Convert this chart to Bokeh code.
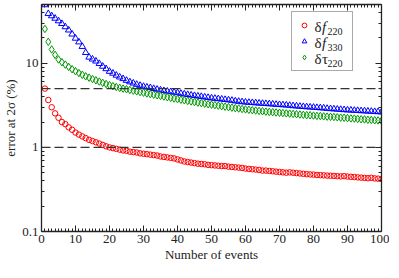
from bokeh.plotting import figure
from bokeh.models import (Span, Label, Legend, LegendItem, LinearAxis, LogAxis,
                          FixedTicker, BasicTickFormatter)
from bokeh.embed import file_html
from bokeh.resources import INLINE

events = list(range(1, 101))

df220 = [5.0, 3.66, 3.0, 2.54, 2.25, 2.0, 1.89, 1.73, 1.62, 1.5,
         1.42, 1.35, 1.29, 1.23, 1.19, 1.15, 1.11, 1.07, 1.03, 1.0,
         0.98, 0.96, 0.94, 0.92, 0.91, 0.89, 0.88, 0.87, 0.85, 0.84,
         0.83, 0.82, 0.81, 0.8, 0.78, 0.77, 0.76, 0.75, 0.74, 0.72,
         0.7, 0.68, 0.67, 0.66, 0.65, 0.64, 0.635, 0.63, 0.62, 0.615,
         0.61, 0.605, 0.6, 0.6, 0.59, 0.585, 0.58, 0.575, 0.57, 0.56,
         0.555, 0.55, 0.545, 0.54, 0.53, 0.53, 0.525, 0.52, 0.515, 0.51,
         0.505, 0.5, 0.505, 0.5, 0.495, 0.49, 0.485, 0.48, 0.477, 0.475,
         0.47, 0.468, 0.465, 0.462, 0.46, 0.458, 0.455, 0.452, 0.455, 0.45,
         0.447, 0.444, 0.44, 0.437, 0.434, 0.43, 0.435, 0.428, 0.425, 0.42]

df330 = [49.5, 38.9, 36.6, 34.2, 31.9, 29.6, 27.1, 24.8, 22.2, 19.8,
         17.9, 15.8, 13.4, 11.8, 11.2, 10.6, 9.9, 9.2, 8.6, 8.0,
         7.6, 7.2, 6.85, 6.55, 6.25, 6.0, 5.8, 5.6, 5.45, 5.3,
         5.2, 5.12, 5.0, 4.9, 4.8, 4.72, 4.65, 4.58, 4.52, 4.45,
         4.38, 4.3, 4.24, 4.18, 4.12, 4.07, 4.02, 3.96, 3.91, 3.86,
         3.82, 3.78, 3.74, 3.7, 3.66, 3.62, 3.56, 3.52, 3.48, 3.45,
         3.42, 3.4, 3.38, 3.35, 3.33, 3.31, 3.29, 3.27, 3.24, 3.22,
         3.2, 3.18, 3.15, 3.12, 3.1, 3.07, 3.05, 3.03, 3.01, 2.99,
         2.97, 2.95, 2.93, 2.9, 2.88, 2.86, 2.84, 2.82, 2.8, 2.78,
         2.77, 2.75, 2.74, 2.72, 2.71, 2.69, 2.68, 2.66, 2.65, 2.63]

dtau220 = [25.6, 18.0, 14.6, 12.6, 11.1, 10.3, 9.65, 9.05, 8.5, 8.05,
           7.65, 7.3, 7.0, 6.75, 6.5, 6.27, 6.06, 5.86, 5.67, 5.5,
           5.35, 5.22, 5.1, 5.0, 4.92, 4.82, 4.73, 4.64, 4.55, 4.47,
           4.38, 4.3, 4.23, 4.16, 4.09, 4.02, 3.95, 3.88, 3.81, 3.75,
           3.69, 3.63, 3.57, 3.52, 3.46, 3.41, 3.36, 3.31, 3.26, 3.22,
           3.18, 3.13, 3.09, 3.05, 3.01, 2.97, 2.93, 2.9, 2.86, 2.83,
           2.8, 2.77, 2.74, 2.71, 2.69, 2.66, 2.64, 2.62, 2.6, 2.58,
           2.56, 2.54, 2.52, 2.5, 2.48, 2.46, 2.44, 2.42, 2.41, 2.39,
           2.37, 2.36, 2.34, 2.32, 2.31, 2.3, 2.28, 2.26, 2.25, 2.23,
           2.21, 2.2, 2.18, 2.16, 2.15, 2.13, 2.12, 2.1, 2.09, 2.07]

x_ticks = [0, 10, 20, 30, 40, 50, 60, 70, 80, 90, 100]
x_minor = [v for v in range(0, 101) if v % 10 != 0]
y_ticks = [0.1, 1, 10]
y_minor = [0.2, 0.3, 0.4, 0.5, 0.6, 0.7, 0.8, 0.9,
           2, 3, 4, 5, 6, 7, 8, 9, 20, 30, 40, 50]
ref_levels = [5, 1]
legend_symbols = [("δ", "f", "220"), ("δ", "f", "330"), ("δ", "τ", "220")]
colors = ["#ff0000", "#0000ff", "#009900"]

FONT = "Liberation Serif"
FW, FH = 340, 227

p = figure(frame_width=FW, frame_height=FH, x_range=(0, 100), y_range=(0.1, 50),
           y_axis_type="log", output_backend="svg", toolbar_location=None,
           min_border_left=0, min_border_right=8, min_border_top=4,
           min_border_bottom=0)
p.grid.visible = False
p.outline_line_color = None
p.background_fill_color = "white"
p.border_fill_color = "white"

xt = FixedTicker(ticks=x_ticks, minor_ticks=x_minor)
yt = FixedTicker(ticks=y_ticks, minor_ticks=y_minor)

bottom = p.below[0]
left = p.left[0]
bottom.ticker = xt
left.ticker = yt
left.formatter = BasicTickFormatter()
bottom.axis_label = "Number of events"
left.axis_label = "error at 2σ (%)"

top = LinearAxis(ticker=xt)
right = LogAxis(ticker=yt)
p.add_layout(top, "above")
p.add_layout(right, "right")

for ax in [bottom, left, top, right]:
    ax.major_tick_in = 6
    ax.major_tick_out = 0
    ax.minor_tick_in = 3
    ax.minor_tick_out = 0
    ax.axis_line_color = "#222222"
    ax.axis_line_width = 1.3
    ax.major_tick_line_color = "#222222"
    ax.minor_tick_line_color = "#222222"
    ax.major_label_text_font = FONT
    ax.major_label_text_color = "#222222"
    ax.major_label_text_font_size = "13px"
    ax.axis_label_text_font = FONT
    ax.axis_label_text_font_style = "normal"
    ax.axis_label_text_font_size = "13px"
    ax.axis_label_text_color = "#222222"
    ax.major_label_standoff = 3
    ax.axis_label_standoff = 1
for ax in [top, right]:
    ax.major_label_text_alpha = 0
    ax.major_label_text_font_size = "2px"
    ax.major_label_standoff = 0

for lvl in ref_levels:
    p.add_layout(Span(location=lvl, dimension="width", line_color="#333333",
                      line_width=1.3, line_dash="9 4"))

r1 = p.scatter(events, df220, marker="circle", size=5.5, fill_color=None,
               line_color=colors[0], line_width=1)
r2 = p.scatter(events, df330, marker="triangle", size=6.5, fill_color=None,
               line_color=colors[1], line_width=1)
r3 = p.scatter(events, dtau220, marker="diamond", size=7.5, fill_color=None,
               line_color=colors[2], line_width=1)

LW, LH = 60, 58
lx = FW - 30 - LW
ly = FH - 9 - LH

legend = Legend(items=[LegendItem(label=" ", renderers=[r]) for r in (r1, r2, r3)],
                location=(lx, ly), padding=6, spacing=2, glyph_width=12,
                glyph_height=14, label_height=14, label_standoff=6,
                label_width=30, border_line_color="#555555",
                border_line_width=1, background_fill_alpha=0,
                label_text_font_size="10px")
p.add_layout(legend)

row_y = [ly + LH - 6 - 7 - 16 * i for i in range(3)]
for (a, b, c), yy in zip(legend_symbols, row_y):
    tx = lx + 23
    p.add_layout(Label(x=tx, y=yy, x_units="screen", y_units="screen",
                       text=a, text_font=FONT, text_font_size="15px",
                       text_baseline="middle", text_color="#222222"))
    p.add_layout(Label(x=tx + 7.5, y=yy, x_units="screen", y_units="screen",
                       text=b, text_font=FONT, text_font_size="15px",
                       text_font_style="italic" if b == "f" else "normal",
                       text_baseline="middle", text_color="#222222"))
    p.add_layout(Label(x=tx + 13, y=yy - 5, x_units="screen", y_units="screen",
                       text=c, text_font=FONT, text_font_size="10px",
                       text_baseline="middle", text_color="#222222"))

open("out.html", "w").write(file_html(p, INLINE))
